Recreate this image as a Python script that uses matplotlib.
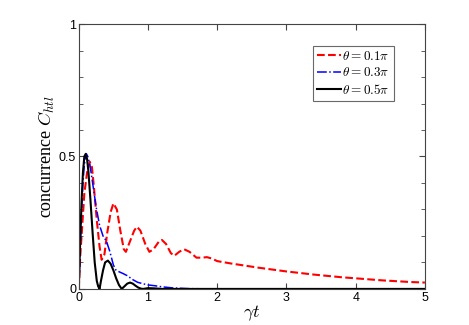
import matplotlib
matplotlib.use("Agg")
import matplotlib.pyplot as plt
from matplotlib.ticker import MultipleLocator, FixedLocator

plt.rcParams['mathtext.fontset'] = 'cm'
plt.rcParams['font.family'] = 'Liberation Sans'

# theta = 0.1 pi
t_red = [0, 0.02, 0.05, 0.08, 0.12, 0.16, 0.19, 0.22, 0.26, 0.30, 0.33, 0.37, 0.41,
         0.46, 0.50, 0.55, 0.60, 0.65, 0.68, 0.74, 0.80, 0.84, 0.89, 0.96, 1.02,
         1.08, 1.16, 1.20, 1.26, 1.33, 1.38, 1.45, 1.52, 1.60, 1.70, 1.78, 1.85,
         1.92, 2.0, 2.2, 2.4, 2.6, 2.8, 3.0, 3.2, 3.4, 3.6, 3.8, 4.0, 4.2, 4.4,
         4.6, 4.8, 5.0]
c_red = [0, 0.12, 0.24, 0.36, 0.44, 0.48, 0.46, 0.38, 0.26, 0.16, 0.11, 0.13, 0.21,
         0.29, 0.323, 0.30, 0.22, 0.15, 0.14, 0.18, 0.22, 0.235, 0.22, 0.17, 0.14,
         0.15, 0.18, 0.185, 0.17, 0.135, 0.125, 0.14, 0.15, 0.14, 0.118, 0.118, 0.12,
         0.115, 0.105, 0.096, 0.088, 0.08, 0.073, 0.066, 0.06, 0.054, 0.049, 0.044,
         0.04, 0.036, 0.032, 0.029, 0.026, 0.024]

# theta = 0.3 pi
t_blue = [0, 0.02, 0.04, 0.06, 0.08, 0.11, 0.13, 0.16, 0.20, 0.25, 0.30, 0.35, 0.40,
          0.45, 0.50, 0.54, 0.58, 0.64, 0.70, 0.78, 0.85, 0.92, 1.0, 1.1, 1.2,
          1.35, 1.6, 2.0, 5.0]
c_blue = [0, 0.15, 0.29, 0.40, 0.47, 0.51, 0.50, 0.47, 0.40, 0.31, 0.24, 0.20, 0.18,
          0.14, 0.09, 0.07, 0.065, 0.058, 0.05, 0.035, 0.025, 0.02, 0.015, 0.012,
          0.008, 0.004, 0.001, 0, 0]

# theta = 0.5 pi
t_black = [0, 0.02, 0.04, 0.06, 0.08, 0.10, 0.12, 0.14, 0.17, 0.20, 0.23, 0.26, 0.28,
           0.30, 0.32, 0.35, 0.38, 0.42, 0.46, 0.50, 0.54, 0.58, 0.62, 0.66, 0.70,
           0.74, 0.78, 0.82, 0.86, 0.90, 0.93, 1.0, 1.1, 1.2, 1.5, 5.0]
c_black = [0, 0.18, 0.33, 0.44, 0.50, 0.51, 0.49, 0.44, 0.33, 0.21, 0.10, 0.03, 0.01,
           0.0, 0.03, 0.07, 0.10, 0.107, 0.095, 0.07, 0.04, 0.015, 0.0, 0.01, 0.02,
           0.024, 0.02, 0.012, 0.005, 0.001, 0.0, 0.003, 0.002, 0.0, 0.0, 0.0]

fig = plt.figure(figsize=(4.69, 3.25), dpi=100)
ax = fig.add_axes([0.168, 0.111, 0.738, 0.815])

ax.plot(t_red, c_red, color='red', linestyle='--', linewidth=1.5, label=r'$\theta=0.1\pi$')
ax.plot(t_blue, c_blue, color='blue', linestyle='-.', linewidth=1.1, label=r'$\theta=0.3\pi$')
ax.plot(t_black, c_black, color='black', linestyle='-', linewidth=1.5, label=r'$\theta=0.5\pi$')

ax.set_xlim(0, 5)
ax.set_ylim(0, 1)
ax.xaxis.set_major_locator(MultipleLocator(1))
ax.yaxis.set_major_locator(FixedLocator([0, 0.5, 1]))
ax.yaxis.set_minor_locator(MultipleLocator(0.1))
ax.set_yticklabels(['0', '0.5', '1'])
ax.tick_params(which='both', direction='in', top=True, right=True, labelsize=9,
               color='#444444', pad=2)
ax.tick_params(which='major', length=4)
ax.tick_params(which='minor', length=3)
for s in ax.spines.values():
    s.set_color('#444444')
    s.set_linewidth(0.8)

ax.set_xlabel(r'$\gamma t$', fontsize=13, labelpad=0)
ax.set_ylabel(r'concurrence $C_{htl}$', fontsize=13, family='Liberation Serif', labelpad=1)

leg = ax.legend(loc='upper right', bbox_to_anchor=(0.910, 0.917), fontsize=9.5,
                fancybox=False, edgecolor='#444444', handlelength=1.8,
                handletextpad=0.1, borderpad=0.3, labelspacing=0.25, borderaxespad=0)
leg.get_frame().set_linewidth(0.8)

fig.savefig('out.png', dpi=100)
